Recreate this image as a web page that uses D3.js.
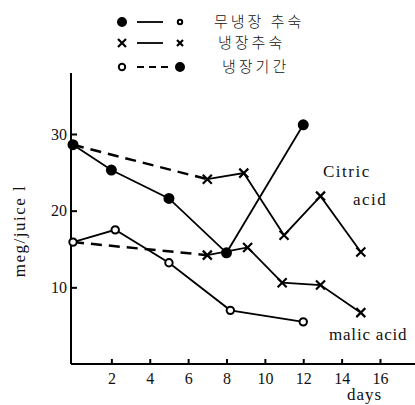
<!DOCTYPE html>
<html>
<head>
<meta charset="utf-8">
<title>Citric / malic acid</title>
<script src="https://d3js.org/d3.v7.min.js"></script>
<style>
  body { margin: 0; background: #fff; }
  svg text { font-family: "Liberation Serif", "DejaVu Serif", serif; fill: #111; }
  .kr { font-family: "Noto Sans CJK KR", sans-serif; font-weight: 300; }
</style>
</head>
<body>
<svg id="chart" width="415" height="405"></svg>
<script>
// unrefrigerated ripening (measured from day 0)
var plainDays = [0, 2, 5, 8, 12];
var plainCitric = [28.6, 25.3, 21.6, 14.5, 31.2];
var plainMalicDays = [0, 2.2, 5, 8.2, 12];
var plainMalic = [15.9, 17.5, 13.2, 7.0, 5.5];

// refrigerated ripening (after cold storage)
var coldDays = [7, 8.9, 11, 12.9, 15];
var coldCitric = [24.1, 24.9, 16.8, 21.9, 14.6];
var coldMalicDays = [7, 9.1, 10.9, 12.9, 15];
var coldMalic = [14.2, 15.2, 10.6, 10.3, 6.7];

var xTicks = [2, 4, 6, 8, 10, 12, 14, 16];
var yTicks = [10, 20, 30];
var legendLabels = ["무냉장 추숙", "냉장추숙", "냉장기간"];

var svg = d3.select("#chart");

var x = d3.scaleLinear().domain([0, 16]).range([73, 380]);
var y = d3.scaleLinear().domain([0, 30]).range([364, 134]);

function pts(days, vals) {
  return days.map(function(d, i) { return [d, vals[i]]; });
}
var line = d3.line().x(function(d) { return x(d[0]); }).y(function(d) { return y(d[1]); });

// axes
var xAxis = svg.append("g").attr("transform", "translate(0," + y(0) + ")")
  .call(d3.axisBottom(x).tickValues(xTicks).tickSizeInner(-5).tickSizeOuter(0).tickPadding(9));
xAxis.select(".domain").remove();
svg.append("line").attr("x1", 71).attr("x2", 415).attr("y1", y(0)).attr("y2", y(0))
  .attr("stroke", "#000").attr("stroke-width", 2);

var yAxis = svg.append("g").attr("transform", "translate(71,0)")
  .call(d3.axisLeft(y).tickValues(yTicks).tickSizeInner(-6).tickSizeOuter(0).tickPadding(4));
yAxis.select(".domain").remove();
svg.append("line").attr("x1", 71).attr("x2", 71).attr("y1", 73).attr("y2", y(0))
  .attr("stroke", "#000").attr("stroke-width", 2);

svg.selectAll(".tick line").attr("stroke", "#000").attr("stroke-width", 2);
svg.selectAll(".tick text").style("font-size", "16px").attr("fill", "#111");

svg.append("text").attr("transform", "translate(25,231) rotate(-90)")
  .attr("text-anchor", "middle").style("font-size", "17px")
  .style("letter-spacing", "1.5px").text("meg/juice l");
svg.append("text").attr("x", 347).attr("y", 400).style("font-size", "17px")
  .style("letter-spacing", "1px").text("days");

// cold-storage period (dashed)
var dashed = [
  [[0, plainCitric[0]], [coldDays[0], coldCitric[0]]],
  [[0, plainMalic[0]], [coldMalicDays[0], coldMalic[0]]]
];
svg.selectAll(".dash").data(dashed).enter().append("path")
  .attr("d", line).attr("fill", "none").attr("stroke", "#000")
  .attr("stroke-width", 2.5).attr("stroke-dasharray", "11,7");

// solid series
var series = [
  { p: pts(plainDays, plainCitric), m: "fill" },
  { p: pts(plainMalicDays, plainMalic), m: "open" },
  { p: pts(coldDays, coldCitric), m: "x" },
  { p: pts(coldMalicDays, coldMalic), m: "x" }
];
series.forEach(function(s) {
  svg.append("path").attr("d", line(s.p)).attr("fill", "none")
    .attr("stroke", "#000").attr("stroke-width", 1.8);
  s.p.forEach(function(d) { marker(x(d[0]), y(d[1]), s.m, 4.5); });
});

function marker(cx, cy, kind, r) {
  if (kind === "x") {
    svg.append("path")
      .attr("d", "M" + (cx - r) + "," + (cy - r) + "L" + (cx + r) + "," + (cy + r) +
                 "M" + (cx - r) + "," + (cy + r) + "L" + (cx + r) + "," + (cy - r))
      .attr("stroke", "#000").attr("stroke-width", 2.2);
  } else {
    svg.append("circle").attr("cx", cx).attr("cy", cy).attr("r", kind === "fill" ? r : r - 0.8)
      .attr("fill", kind === "fill" ? "#000" : "#fff")
      .attr("stroke", "#000").attr("stroke-width", 2);
  }
}

svg.append("text").attr("x", 323).attr("y", 177).style("font-size", "17px")
  .style("letter-spacing", "1.5px").text("Citric");
svg.append("text").attr("x", 353).attr("y", 205).style("font-size", "17px")
  .style("letter-spacing", "1.5px").text("acid");
svg.append("text").attr("x", 329).attr("y", 340).style("font-size", "17px")
  .style("letter-spacing", "0.8px").text("malic acid");

// legend
var legY = [22, 43, 67];
var legMarks = [["fill", "open"], ["x", "x"], ["open", "fill"]];
legY.forEach(function(ly, i) {
  marker(122, ly, legMarks[i][0], 4);
  marker(180, ly, legMarks[i][1], i === 2 ? 4 : 3);
  svg.append("line").attr("x1", 137).attr("x2", i === 2 ? 172 : 163).attr("y1", ly).attr("y2", ly)
    .attr("stroke", "#000").attr("stroke-width", 1.8)
    .attr("stroke-dasharray", i === 2 ? "7,5" : null);
  svg.append("text").attr("class", "kr").attr("x", 214 + i * 4).attr("y", ly + 5)
    .style("font-size", "15px").style("letter-spacing", "3px").text(legendLabels[i]);
});
</script>
</body>
</html>
